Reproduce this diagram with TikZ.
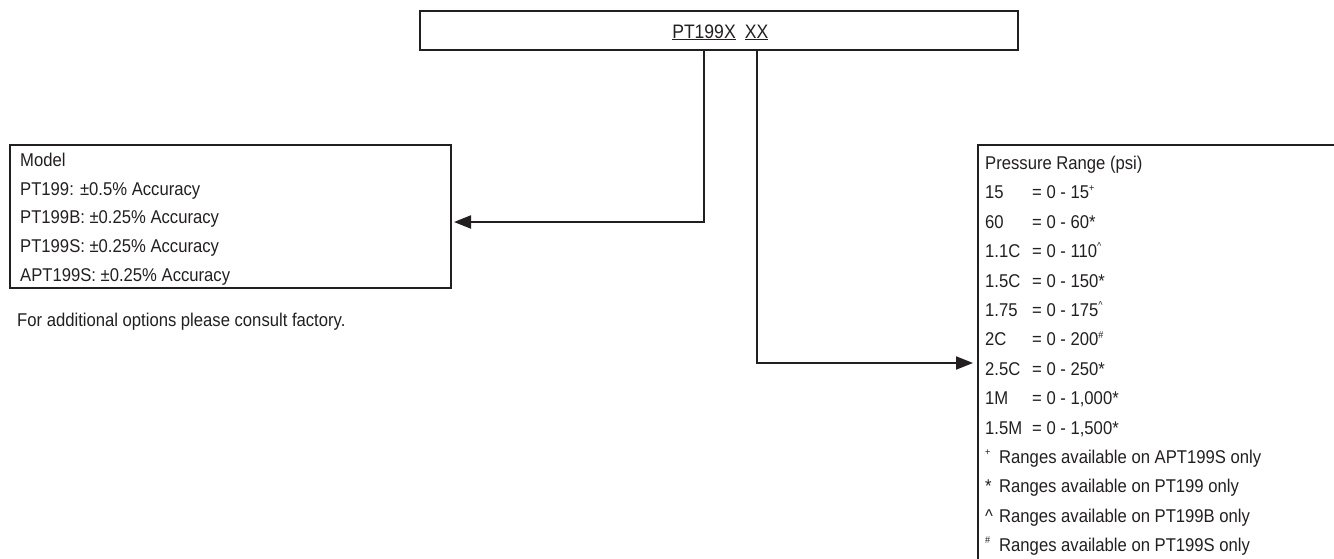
\documentclass[tikz,border=0pt]{standalone}
\usepackage{fontspec}
\setmainfont{Liberation Sans}[FakeStretch=0.9]
\usetikzlibrary{arrows.meta, positioning}
\definecolor{ink}{RGB}{35,31,32}
\tikzset{>={Triangle[length=17pt, width=13pt]}}
\tikzset{
  frame/.style={draw=ink, line width=2.6pt, outer sep=0pt, inner sep=0pt},
  link/.style={draw=ink, line width=2pt},
  txt/.style={font=\fontsize{18.5}{22}\selectfont, text=ink, inner sep=0pt, anchor=base west},
}
\newcommand{\sym}[1]{\raisebox{0.42em}{\fontsize{10}{10}\selectfont #1}}
\newcommand{\rng}[2]{\makebox[47pt][l]{#1}= 0 - #2}
\newcommand{\fn}[2]{\makebox[14pt][l]{#1}Ranges available on #2 only}

\begin{document}
\begin{tikzpicture}[x=1pt, y=-1pt]
\useasboundingbox (0,0) rectangle (1334,558);

% order code
\node[frame, minimum width=598pt, minimum height=39pt, anchor=north west] (top) at (420,11) {};
\node[txt, anchor=base] (code) at (704,38) {\fontsize{19.5}{22}\selectfont\underline{PT199X}};
\node[txt, anchor=base] (opt) at (756.5,38) {\fontsize{19.5}{22}\selectfont\underline{XX}};

% model box
\node[frame, minimum width=441pt, minimum height=143pt, anchor=north west] (model) at (10,145) {};
\foreach \t [count=\i from 0] in {Model, PT199: ±0.5\% Accuracy, PT199B: ±0.25\% Accuracy,
    PT199S: ±0.25\% Accuracy, APT199S: ±0.25\% Accuracy}
  \node[txt] (m\i) at (20, 166.5+28.7*\i) {\t};
\node[txt] (note) at (17,326) {For additional options please consult factory.};

% pressure range box (open at right and bottom)
\node[frame, draw=none, minimum width=356pt, minimum height=420pt, anchor=north west] (range) at (978,145) {};
\draw[frame] (range.north east) -- (range.north west) -- (range.south west);
\foreach \t [count=\i from 0] in {Pressure Range (psi), {\rng{15}{15\sym{+}}}, {\rng{60}{60*}},
    {\rng{1.1C}{110\sym{\textasciicircum}}}, {\rng{1.5C}{150*}}, {\rng{1.75}{175\sym{\textasciicircum}}},
    {\rng{2C}{200\sym{\#}}}, {\rng{2.5C}{250*}}, {\rng{1M}{1,000*}}, {\rng{1.5M}{1,500*}},
    {\fn{\sym{+}}{APT199S}}, {\fn{*}{PT199}},
    {\fn{\textasciicircum}{PT199B}}, {\fn{\sym{\#}}{PT199S}}}
  \node[txt] (r\i) at (985, 169.5+29.4*\i) {\t};

% connectors
\draw[link, ->, shorten >=3pt] (code |- top.south) |- ([yshift=-5.5pt]model.east);
\draw[link, ->, shorten >=5pt] (opt |- top.south) |- ([yshift=-218pt]range.north west);

\end{tikzpicture}
\end{document}
